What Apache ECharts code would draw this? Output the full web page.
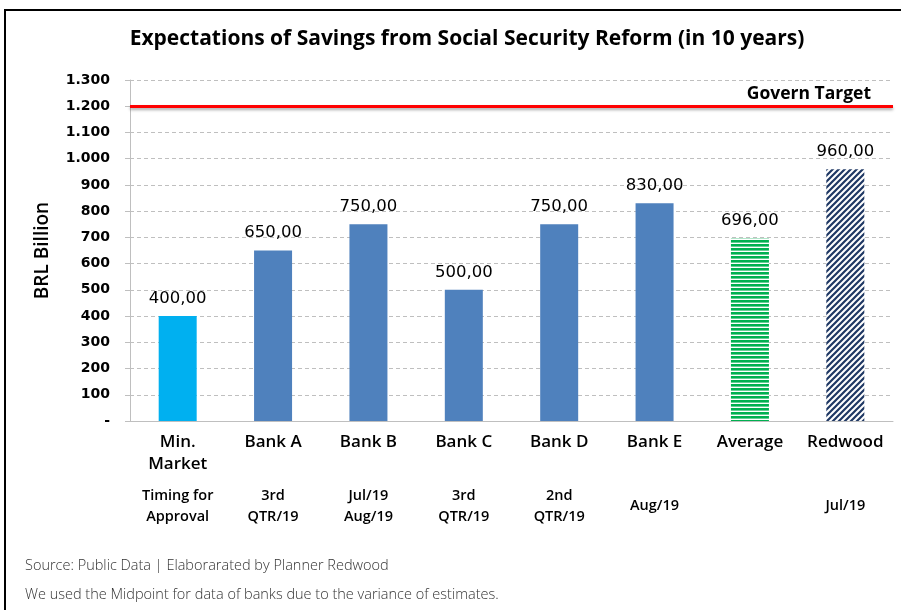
<!DOCTYPE html>
<html>
<head>
<meta charset="utf-8">
<script src="https://cdn.jsdelivr.net/npm/echarts@6/dist/echarts.min.js"></script>
<style>
  html, body { margin: 0; padding: 0; background: #fff; }
  #chart { width: 901px; height: 610px; }
</style>
</head>
<body>
<div id="chart"></div>
<script>
// categories and values
const categories = ['Min.\nMarket', 'Bank A', 'Bank B', 'Bank C', 'Bank D', 'Bank E', 'Average', 'Redwood']
const timing = ['Timing for\nApproval', '3rd\nQTR/19', 'Jul/19\nAug/19', '3rd\nQTR/19', '2nd\nQTR/19', 'Aug/19', '', 'Jul/19']
const savings = [400, 650, 750, 500, 750, 830, 696, 960]
const governTarget = 1200

const FONT = 'Open Sans'
const NUM_FONT = 'DejaVu Sans'

// hatch patterns for the last two bars
function stripesH () {
  const c = document.createElement('canvas')
  c.width = 4; c.height = 4
  const ctx = c.getContext('2d')
  ctx.fillStyle = '#fff'
  ctx.fillRect(0, 0, 4, 4)
  ctx.fillStyle = '#00B050'
  ctx.fillRect(0, 0, 4, 2.6)
  return c
}
function stripesDiag () {
  const s = 6
  const c = document.createElement('canvas')
  c.width = s; c.height = s
  const ctx = c.getContext('2d')
  ctx.fillStyle = '#fff'
  ctx.fillRect(0, 0, s, s)
  ctx.strokeStyle = '#1F3864'
  ctx.lineWidth = 2.2
  ctx.beginPath()
  ctx.moveTo(-1, s + 1); ctx.lineTo(s + 1, -1)
  ctx.moveTo(-1, 1); ctx.lineTo(1, -1)
  ctx.moveTo(s - 1, s + 1); ctx.lineTo(s + 1, s - 1)
  ctx.stroke()
  return c
}

function barColor (i) {
  if (i === 0) return '#00B0F0'
  if (i === 6) return { image: stripesH(), repeat: 'repeat' }
  if (i === 7) return { image: stripesDiag(), repeat: 'repeat' }
  return '#4F81BD'
}

const chart = echarts.init(document.getElementById('chart'))

const option = {
  animation: false,
  textStyle: { fontFamily: FONT },
  title: {
    text: 'Expectations of Savings from Social Security Reform (in 10 years)',
    left: 462,
    top: 24,
    textAlign: 'center',
    textStyle: { fontFamily: FONT, fontSize: 21, fontWeight: 'bold', color: '#000' }
  },
  grid: { left: 130, right: 8, top: 80, bottom: 189 },
  xAxis: [
    {
      type: 'category',
      data: categories,
      axisLine: { lineStyle: { color: '#bfbfbf' } },
      axisTick: { length: 6, lineStyle: { color: '#bfbfbf' } },
      axisLabel: { interval: 0, color: '#000', fontFamily: FONT, fontSize: 17, fontWeight: 600, margin: 10, lineHeight: 22 }
    },
    {
      type: 'category',
      data: timing,
      position: 'bottom',
      axisLine: { show: false },
      axisTick: { show: false },
      axisLabel: { interval: 0, color: '#000', fontFamily: FONT, fontSize: 14.5, fontWeight: 600, margin: 85, lineHeight: 21, verticalAlign: 'middle' }
    }
  ],
  yAxis: {
    type: 'value',
    min: 0,
    max: 1300,
    interval: 100,
    name: 'BRL Billion',
    nameLocation: 'middle',
    nameGap: 78,
    nameTextStyle: { fontFamily: FONT, fontSize: 19, fontWeight: 600, color: '#000' },
    axisLine: { show: true, lineStyle: { color: '#bfbfbf' } },
    axisTick: { show: true, length: 5, lineStyle: { color: '#bfbfbf' } },
    axisLabel: {
      color: '#000',
      fontFamily: NUM_FONT,
      fontSize: 14,
      fontWeight: 'bold',
      margin: 20,
      formatter: v => v === 0 ? '-' : String(v).replace(/\B(?=(\d{3})+(?!\d))/g, '.')
    },
    splitLine: { lineStyle: { color: '#bfbfbf', type: [4, 3] } }
  },
  series: [
    {
      type: 'bar',
      barWidth: 38,
      data: savings.map((v, i) => ({ value: v, itemStyle: { color: barColor(i) } })),
      label: {
        show: true,
        position: 'top',
        distance: 9,
        color: '#000',
        fontFamily: NUM_FONT,
        fontSize: 16.5,
        formatter: p => p.value.toFixed(2).replace('.', ',')
      },
      markLine: {
        silent: true,
        symbol: 'none',
        lineStyle: {
          color: '#FF0000',
          width: 3,
          type: 'solid',
          shadowColor: 'rgba(0,0,0,0.35)',
          shadowBlur: 3,
          shadowOffsetY: 2
        },
        label: {
          position: 'insideEndTop',
          formatter: 'Govern Target',
          color: '#000',
          fontFamily: FONT,
          fontSize: 17.5,
          fontWeight: 'bold',
          distance: [22, 3]
        },
        data: [{ yAxis: governTarget }]
      }
    }
  ],
  graphic: [
    {
      type: 'rect',
      shape: { x: 5, y: 10, width: 1000, height: 1000 },
      style: { fill: 'none', stroke: '#000', lineWidth: 2 },
      silent: true
    },
    {
      type: 'text',
      left: 25,
      top: 558,
      style: { text: 'Source: Public Data | Elaborarated by Planner Redwood', fontFamily: FONT, fontSize: 14.5, fontWeight: 300, fill: '#333' }
    },
    {
      type: 'text',
      left: 25,
      top: 587,
      style: { text: 'We used the Midpoint for data of banks due to the variance of estimates.', fontFamily: FONT, fontSize: 14.5, fontWeight: 300, fill: '#333' }
    }
  ]
}

chart.setOption(option)
</script>
</body>
</html>
